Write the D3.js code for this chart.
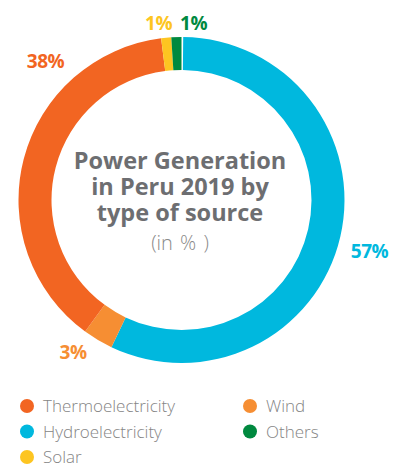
<!DOCTYPE html>
<html>
<head>
<meta charset="utf-8">
<script src="https://cdn.jsdelivr.net/npm/d3@7"></script>
<style>
  html, body { margin: 0; padding: 0; background: #ffffff; }
  svg { display: block; }
  text { font-family: "Open Sans", "Noto Sans", sans-serif; }
</style>
</head>
<body>
<svg id="chart" width="401" height="465"></svg>
<script>
// Share of power generation by source, clockwise from 12 o'clock
const categories = ["Hydroelectricity", "Wind", "Thermoelectricity", "Solar", "Others"];
const shares = [57, 3, 38, 1, 1];
const colors = ["#00b8de", "#f68e33", "#f26522", "#fdc521", "#00893f"];

// Legend entries, filled column by column
const legendOrder = ["Thermoelectricity", "Hydroelectricity", "Solar", "Wind", "Others"];

const titleLines = ["Power Generation", "in Peru 2019 by", "type of source"];
const subtitle = "(in % )";

const svg = d3.select("#chart");
const cx = 181.5, cy = 200;
const outerR = 163, innerR = 130;

const color = d3.scaleOrdinal().domain(categories).range(colors);
const data = categories.map((c, i) => ({ name: c, value: shares[i] }));

const pie = d3.pie().value(d => d.value).sort(null).startAngle(0.6 * Math.PI / 180);
const arc = d3.arc().innerRadius(innerR).outerRadius(outerR);
const arcs = pie(data);

const g = svg.append("g").attr("transform", `translate(${cx},${cy})`);
g.selectAll("path.slice")
  .data(arcs)
  .join("path")
  .attr("class", "slice")
  .attr("d", arc)
  .attr("fill", d => color(d.data.name));

// Percentage labels set around the ring
const labelSpots = {
  "Hydroelectricity": [188, 58],
  "Wind": [-108.5, 159],
  "Thermoelectricity": [-136, -132],
  "Solar": [-23, -170],
  "Others": [12, -170]
};
g.selectAll("text.pct")
  .data(arcs)
  .join("text")
  .attr("class", "pct")
  .attr("x", d => labelSpots[d.data.name][0])
  .attr("y", d => labelSpots[d.data.name][1])
  .attr("text-anchor", "middle")
  .attr("font-size", 19)
  .attr("font-weight", 700)
  .attr("letter-spacing", -0.5)
  .attr("fill", d => color(d.data.name))
  .text(d => d.data.value + "%");

// Centre title
const title = svg.append("text")
  .attr("x", 180)
  .attr("text-anchor", "middle")
  .attr("font-size", 23.5)
  .attr("font-weight", 700)
  .attr("fill", "#6d6e71");
titleLines.forEach((line, i) => {
  title.append("tspan").attr("x", 180).attr("y", 169 + i * 26).text(line);
});
svg.append("text")
  .attr("x", 180)
  .attr("y", 250)
  .attr("text-anchor", "middle")
  .attr("font-size", 20)
  .attr("font-weight", 300)
  .attr("word-spacing", 2)
  .attr("fill", "#8a8a8a")
  .text(subtitle);

// Legend
const legend = svg.append("g");
const items = legend.selectAll("g.item")
  .data(legendOrder)
  .join("g")
  .attr("class", "item")
  .attr("transform", (d, i) => {
    const col = i < 3 ? 0 : 1;
    const row = i < 3 ? i : i - 3;
    return `translate(${27 + col * 223},${406 + row * 25.5})`;
  });
items.append("circle")
  .attr("r", 7)
  .attr("fill", d => color(d));
items.append("text")
  .attr("x", 16)
  .attr("y", 6)
  .attr("font-size", 17)
  .attr("font-weight", 300)
  .attr("fill", "#858585")
  .text(d => d);
</script>
</body>
</html>
